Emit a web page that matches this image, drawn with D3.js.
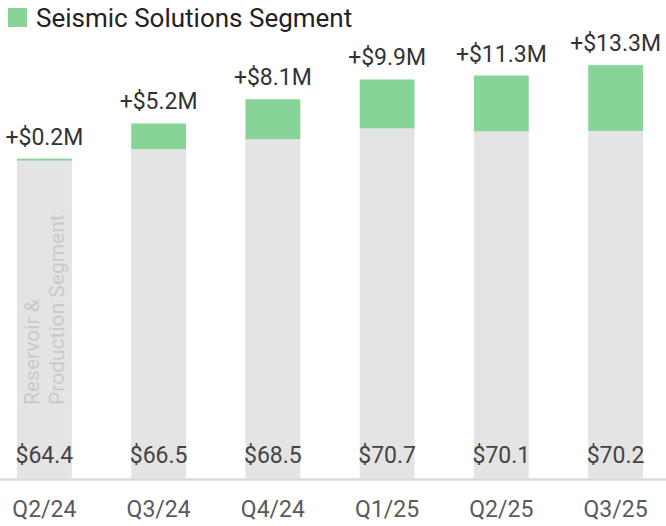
<!DOCTYPE html>
<html>
<head>
<meta charset="utf-8">
<script src="https://cdn.jsdelivr.net/npm/d3@7"></script>
<style>
  body { margin: 0; background: #fff; }
  svg { display: block; font-family: Roboto, "Noto Sans", sans-serif; }
</style>
</head>
<body>
<div id="plot"></div>
<script>
/* data */
var quarters = ['Q2/24','Q3/24','Q4/24','Q1/25','Q2/25','Q3/25'];
var reservoir = [64.4, 66.5, 68.5, 70.7, 70.1, 70.2];
var seismic = [0.2, 5.2, 8.1, 9.9, 11.3, 13.3];

var width = 666, height = 526;

var svg = d3.select('#plot')
    .append('svg')
    .attr('width', width)
    .attr('height', height);

var x = d3.scaleBand()
    .domain(quarters)
    .range([9, 651])
    .paddingInner(0.52)
    .paddingOuter(0.07);

var y = d3.scaleLinear()
    .domain([0, 90])
    .range([478, 33]);

var rows = quarters.map(function(q, i){
    return {q: q, r: reservoir[i], s: seismic[i]};
});

// gray reservoir part
svg.selectAll('.res')
    .data(rows)
    .enter()
    .append('rect')
    .attr('class','res')
    .attr('x', function(d){ return x(d.q); })
    .attr('width', x.bandwidth())
    .attr('y', function(d){ return y(d.r); })
    .attr('height', function(d){ return y(0) - y(d.r); })
    .style('fill','#e4e4e4');

// green seismic part on top
svg.selectAll('.seis')
    .data(rows)
    .enter()
    .append('rect')
    .attr('class','seis')
    .attr('x', function(d){ return x(d.q); })
    .attr('width', x.bandwidth())
    .attr('y', function(d){ return y(d.r + d.s); })
    .attr('height', function(d){ return Math.max(2, y(d.r) - y(d.r + d.s)); })
    .style('fill','#88d498');

// baseline
svg.append('line')
    .attr('x1', 0).attr('x2', width)
    .attr('y1', 479.5).attr('y2', 479.5)
    .style('stroke','#d9d9d9')
    .style('stroke-width', 2.5);

// value labels inside bars
svg.selectAll('.val')
    .data(rows)
    .enter()
    .append('text')
    .attr('class','val')
    .attr('x', function(d){ return x(d.q) + x.bandwidth()/2; })
    .attr('y', 463)
    .attr('text-anchor','middle')
    .style('font-size','23px')
    .style('fill','#444')
    .text(function(d){ return '$' + d.r.toFixed(1); });

// seismic increment labels
svg.selectAll('.inc')
    .data(rows)
    .enter()
    .append('text')
    .attr('class','inc')
    .attr('x', function(d){ return x(d.q) + x.bandwidth()/2; })
    .attr('y', function(d){ return y(d.r + d.s) - 14; })
    .attr('text-anchor','middle')
    .style('font-size','23px')
    .style('fill','#333')
    .text(function(d){ return '+$' + d.s.toFixed(1) + 'M'; })
    .each(function(){
        var b = this.getBBox();
        if (b.x < 0) d3.select(this).attr('x', +d3.select(this).attr('x') - b.x);
    });

// x axis labels
svg.selectAll('.tick-lbl')
    .data(quarters)
    .enter()
    .append('text')
    .attr('class','tick-lbl')
    .attr('x', function(d){ return x(d) + x.bandwidth()/2; })
    .attr('y', 517)
    .attr('text-anchor','middle')
    .style('font-size','23px')
    .style('fill','#5a5a5a')
    .text(function(d){ return d; });

// rotated label in first bar
var rot = svg.append('text')
    .attr('transform','translate(' + (x(quarters[0]) + 22) + ',405) rotate(-90)')
    .style('font-size','21px')
    .style('fill','#cacaca');
rot.append('tspan').attr('x',0).attr('dy',0).text('Reservoir &');
rot.append('tspan').attr('x',0).attr('dy',25).text('Production Segment');

// legend
svg.append('rect')
    .attr('x', 8).attr('y', 8)
    .attr('width', 19).attr('height', 19)
    .style('fill','#88d498');
svg.append('text')
    .attr('x', 36).attr('y', 27)
    .style('font-size','26px')
    .style('fill','#222')
    .text('Seismic Solutions Segment');
</script>
</body>
</html>
